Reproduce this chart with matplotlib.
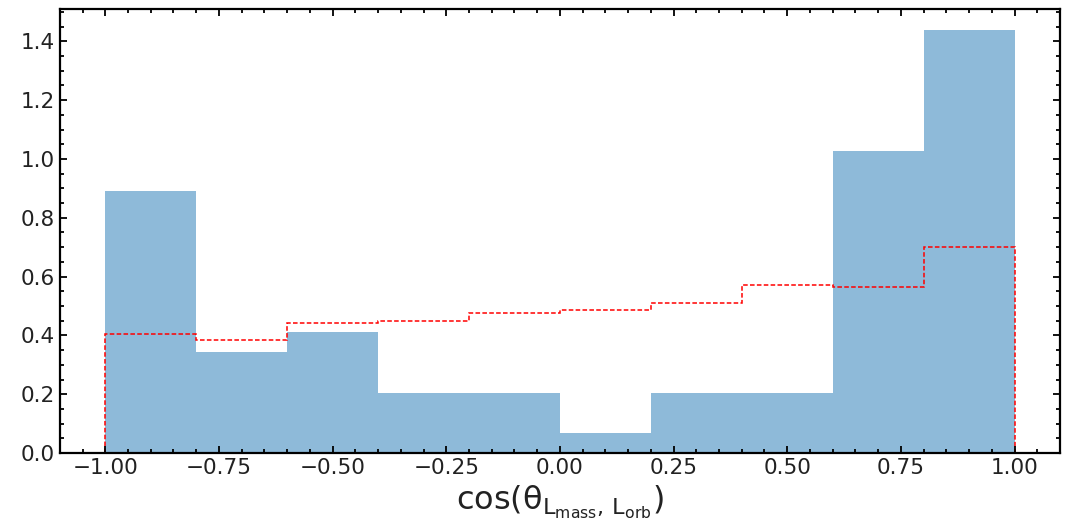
import numpy as np
import matplotlib
matplotlib.use("Agg")
import matplotlib.pyplot as plt
from matplotlib.ticker import MultipleLocator

plt.rcParams["mathtext.default"] = "regular"

# Bin edges for cos(theta) between the mass and orbital angular momenta
bin_edges = [-1.0, -0.8, -0.6, -0.4, -0.2, 0.0, 0.2, 0.4, 0.6, 0.8, 1.0]

# Normalised density of the measured sample
sample_density = [0.890, 0.342, 0.411, 0.205, 0.205, 0.068, 0.205, 0.205, 1.027, 1.438]

# Normalised density of the reference (random) distribution
reference_density = [0.406, 0.386, 0.443, 0.448, 0.475, 0.486, 0.511, 0.572, 0.564, 0.702]

fig = plt.figure(figsize=(10.68, 5.25), dpi=100)
ax = fig.add_axes([0.056, 0.137, 0.9365, 0.846])

edges = np.asarray(bin_edges)
widths = np.diff(edges)
ax.bar(edges[:-1], sample_density, width=widths, align="edge",
       color="C0", alpha=0.5, linewidth=0)
ax.stairs(reference_density, edges, baseline=0, color="red",
          linestyle=(0, (3, 1.5)), linewidth=1.1)

ax.set_xlabel(r"$cos(\theta_{L_{mass},\, L_{orb}})$", fontsize=23,
              labelpad=4, color="#222222")

ax.xaxis.set_major_locator(MultipleLocator(0.25))
ax.xaxis.set_minor_locator(MultipleLocator(0.05))
ax.yaxis.set_major_locator(MultipleLocator(0.2))
ax.yaxis.set_minor_locator(MultipleLocator(0.05))
ax.tick_params(which="both", direction="in", top=True, right=True,
               labelsize=15.5, width=1.3, labelcolor="#222222")
ax.tick_params(which="major", length=5)
ax.tick_params(which="minor", length=3)
for s in ax.spines.values():
    s.set_linewidth(1.6)

fig.savefig("out.png", dpi=100)
